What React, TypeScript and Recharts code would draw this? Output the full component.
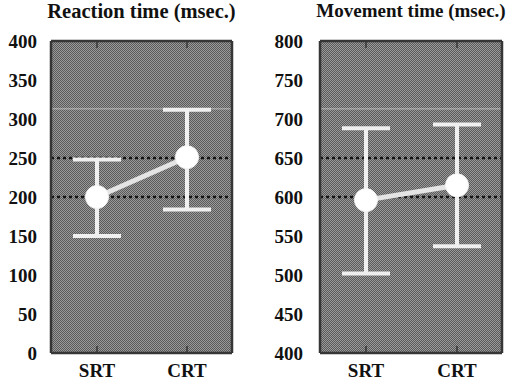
import { LineChart, Line, XAxis, YAxis, CartesianGrid, ErrorBar, ReferenceLine } from "recharts";

const categories = ["SRT", "CRT"];

const reactionMean = [200, 251];
const reactionLow = [150, 184];
const reactionHigh = [248, 312];

const movementMean = [596, 615];
const movementLow = [502, 537];
const movementHigh = [688, 693];

const reactionTicks = [0, 50, 100, 150, 200, 250, 300, 350, 400];
const movementTicks = [400, 450, 500, 550, 600, 650, 700, 750, 800];
const reactionMinor = [0, 25, 50, 75, 100, 125, 150, 175, 200, 225, 250, 275, 300, 325, 350, 375, 400];
const movementMinor = reactionMinor.map((v) => v + 400);

const reactionDotted = [200, 250];
const movementDotted = [600, 650];
// faint scan streak across both plots
const reactionStreak = 313;
const movementStreak = 713;

const font = "'Liberation Serif', 'Times New Roman', serif";

function buildData(mean: number[], low: number[], high: number[]) {
  return categories.map((cat, i) => ({
    cat,
    mean: mean[i],
    err: [mean[i] - low[i], high[i] - mean[i]],
  }));
}

interface PanelProps {
  title: string;
  titleSize: number;
  left: number;
  data: { cat: string; mean: number; err: number[] }[];
  domain: [number, number];
  ticks: number[];
  minor: number[];
  dotted: number[];
  streak: number;
  axisWidth: number;
  rightMargin: number;
  labelGap: number;
}

function Panel({ title, titleSize, left, data, domain, ticks, minor, dotted, streak, axisWidth, rightMargin, labelGap }: PanelProps) {
  const edge = { stroke: "#363636", strokeWidth: 2.5 };
  const tickStyle = { stroke: "#363636", strokeWidth: 1.5 };
  const labelStyle = { fontFamily: font, fontWeight: "bold", fontSize: 19, fill: "#111" };
  const plotCenter = left + axisWidth + (253 - axisWidth - rightMargin) / 2;
  return (
    <>
      <div
        style={{
          position: "absolute",
          left: plotCenter - 120,
          top: 0,
          width: 240,
          textAlign: "center",
          whiteSpace: "nowrap",
          fontFamily: font,
          fontWeight: "bold",
          fontSize: titleSize,
          lineHeight: "22px",
          color: "#111",
        }}
      >
        {title}
      </div>
      <div style={{ position: "absolute", left, top: 0 }}>
        <LineChart width={253} height={385} data={data} margin={{ top: 41, right: rightMargin, bottom: 0, left: 0 }}>
          <CartesianGrid xAxisId="x" yAxisId="y" horizontal={false} vertical={false} fill="url(#checker)" fillOpacity={1} />
          <XAxis
            xAxisId="x"
            dataKey="cat"
            padding={{ left: 46, right: 45 }}
            axisLine={false}
            tickLine={false}
            tickSize={0}
            tickMargin={11}
            height={32}
            tick={labelStyle}
          />
          <XAxis xAxisId="xb" dataKey="cat" mirror padding={{ left: 46, right: 45 }} axisLine={edge} tickLine={tickStyle} tickSize={7} tickFormatter={() => ""} />
          <XAxis xAxisId="xt" dataKey="cat" orientation="top" mirror padding={{ left: 46, right: 45 }} axisLine={edge} tickLine={tickStyle} tickSize={7} tickFormatter={() => ""} />
          <YAxis
            yAxisId="y"
            domain={domain}
            ticks={ticks}
            type="number"
            width={axisWidth}
            axisLine={false}
            tickLine={false}
            tickSize={0}
            tickMargin={labelGap}
            interval={0}
            tick={labelStyle}
          />
          <YAxis yAxisId="yl" domain={domain} ticks={minor} type="number" mirror interval={0} axisLine={edge} tickLine={tickStyle} tickSize={3} tickFormatter={() => ""} />
          <YAxis yAxisId="yr" orientation="right" domain={domain} ticks={minor} type="number" mirror interval={0} axisLine={edge} tickLine={tickStyle} tickSize={3} tickFormatter={() => ""} />
          <ReferenceLine xAxisId="x" yAxisId="y" y={streak} stroke="#d8d8d8" strokeWidth={1} strokeOpacity={0.7} />
          {dotted.map((v) => (
            <ReferenceLine key={v} xAxisId="x" yAxisId="y" y={v} stroke="#151515" strokeWidth={2.5} strokeDasharray="3 3" />
          ))}
          <Line
            xAxisId="x"
            yAxisId="y"
            dataKey="mean"
            stroke="#e4e4e4"
            strokeWidth={5}
            dot={{ r: 11.5, fill: "#ffffff", stroke: "#f4f4f4", strokeWidth: 1 }}
            activeDot={false}
            isAnimationActive={false}
          >
            <ErrorBar dataKey="err" width={24} stroke="#efefef" strokeWidth={4} direction="y" />
          </Line>
        </LineChart>
      </div>
    </>
  );
}

export default function App() {
  return (
    <div style={{ position: "absolute", left: 0, top: 0, width: 506, height: 385, background: "#ffffff", overflow: "hidden" }}>
      <svg width={0} height={0} style={{ position: "absolute" }}>
        <defs>
          <pattern id="checker" width={2} height={2} patternUnits="userSpaceOnUse">
            <rect width={2} height={2} fill="#9a9a9a" />
            <rect x={0} y={0} width={1} height={1} fill="#5a5a5a" />
            <rect x={1} y={1} width={1} height={1} fill="#5a5a5a" />
          </pattern>
        </defs>
      </svg>
      <Panel
        title="Reaction time (msec.)"
        titleSize={20.5}
        left={0}
        data={buildData(reactionMean, reactionLow, reactionHigh)}
        domain={[0, 400]}
        ticks={reactionTicks}
        minor={reactionMinor}
        dotted={reactionDotted}
        streak={reactionStreak}
        axisWidth={51}
        rightMargin={21}
        labelGap={14}
      />
      <Panel
        title="Movement time (msec.)"
        titleSize={19}
        left={253}
        data={buildData(movementMean, movementLow, movementHigh)}
        domain={[400, 800]}
        ticks={movementTicks}
        minor={movementMinor}
        dotted={movementDotted}
        streak={movementStreak}
        axisWidth={67}
        rightMargin={4}
        labelGap={17}
      />
    </div>
  );
}
